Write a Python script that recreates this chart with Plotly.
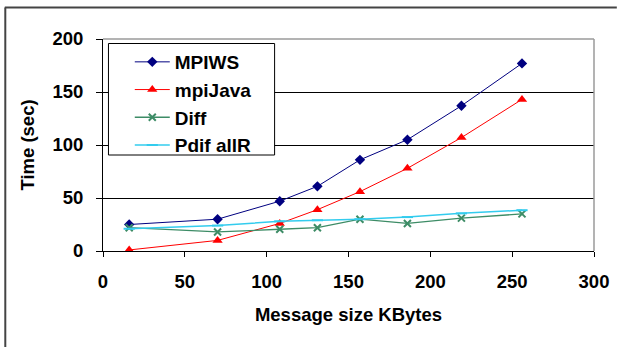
import plotly.graph_objects as go

# ---- data ----
msg_size = [16, 70, 108, 131, 157, 186, 219, 256]
mpiws = [25, 30, 47, 61, 86, 105, 137, 177]
mpijava = [1, 10, 26, 39, 56, 78, 107, 143]
diff = [22, 18, 20.5, 22, 30, 26, 31, 35]
pdif_allr = [21, 24, 28, 29, 30, 32, 35.5, 38.5]

x_ticks = [0, 50, 100, 150, 200, 250, 300]
y_ticks = [0, 50, 100, 150, 200]

FONT = "Liberation Sans, Arial, sans-serif"
FS = 18.5

series = [
    ("MPIWS", mpiws, "#000080", "diamond", 8, 1),
    ("mpiJava", mpijava, "#FF0000", "triangle-up", 9, 1),
    ("Diff", diff, "#3D8C66", "x-thin", 7, 1.3),
    ("Pdif allR", pdif_allr, "#33CCEE", "line-ew", 8, 1.5),
]

fig = go.Figure()
for i, (name, vals, color, sym, size, lw) in enumerate(series):
    fig.add_trace(go.Scatter(
        x=msg_size, y=vals, name=name, mode="lines+markers",
        line=dict(color=color, width=lw),
        marker=dict(symbol=sym, size=size, color=color,
                    line=dict(color=color, width=2 if sym in ("x-thin", "line-ew") else 0)),
    ))

W, H = 621, 347
L, R, T, B = 103, 23, 39, 96
pw, ph = W - L - R, H - T - B

def px(xp):
    return (xp - L) / pw

def py(yp):
    return (H - B - yp) / ph

shapes = [
    # plot area top and right border (gray)
    dict(type="line", xref="paper", yref="paper", x0=0, x1=1, y0=1, y1=1,
         line=dict(color="#9A9A9A", width=1.5), layer="above"),
    dict(type="line", xref="paper", yref="paper", x0=1, x1=1, y0=0, y1=1,
         line=dict(color="#9A9A9A", width=1.5), layer="above"),
    # outer chart border (top and left)
    dict(type="line", xref="paper", yref="paper", x0=px(4), x1=px(621), y0=py(7.5), y1=py(7.5),
         line=dict(color="#444444", width=2)),
    dict(type="line", xref="paper", yref="paper", x0=px(4.5), x1=px(4.5), y0=py(7.5), y1=py(347),
         line=dict(color="#444444", width=2)),
    # legend box
    dict(type="rect", xref="paper", yref="paper", x0=px(108.5), x1=px(276), y0=py(43.5), y1=py(155),
         line=dict(color="#000000", width=1), fillcolor="white", layer="above"),
]

fig.update_layout(
    width=W, height=H,
    margin=dict(l=L, r=R, t=T, b=B, pad=0),
    paper_bgcolor="white", plot_bgcolor="white",
    font=dict(family=FONT, size=FS, color="black", weight="bold"),
    shapes=shapes,
    showlegend=True,
    legend=dict(
        x=px(130), y=py(43), xanchor="left", yanchor="top",
        bgcolor="rgba(0,0,0,0)", borderwidth=0,
        font=dict(family=FONT, size=19, color="black", weight="bold"),
        itemwidth=35,
    ),
    xaxis=dict(
        range=[0, 300], tickvals=x_ticks, ticktext=[str(v) for v in x_ticks],
        showline=True, linecolor="black", linewidth=1,
        ticks="outside", ticklen=5, tickcolor="black",
        showgrid=False, zeroline=False,
        ticklabelstandoff=9,
        tickfont=dict(family=FONT, size=FS, weight="bold"),
        title=dict(text="Message size KBytes", standoff=16,
                   font=dict(family=FONT, size=FS, weight="bold")),
    ),
    yaxis=dict(
        range=[0, 200], tickvals=y_ticks, ticktext=[str(v) for v in y_ticks],
        showline=True, linecolor="black", linewidth=1,
        ticks="outside", ticklen=6, tickcolor="black",
        showgrid=True, gridcolor="black", gridwidth=1,
        zeroline=False,
        ticklabelstandoff=9,
        tickfont=dict(family=FONT, size=FS, weight="bold"),
        title=dict(text="Time (sec)", standoff=12,
                   font=dict(family=FONT, size=FS, weight="bold")),
    ),
)

fig.write_html("out.html")
